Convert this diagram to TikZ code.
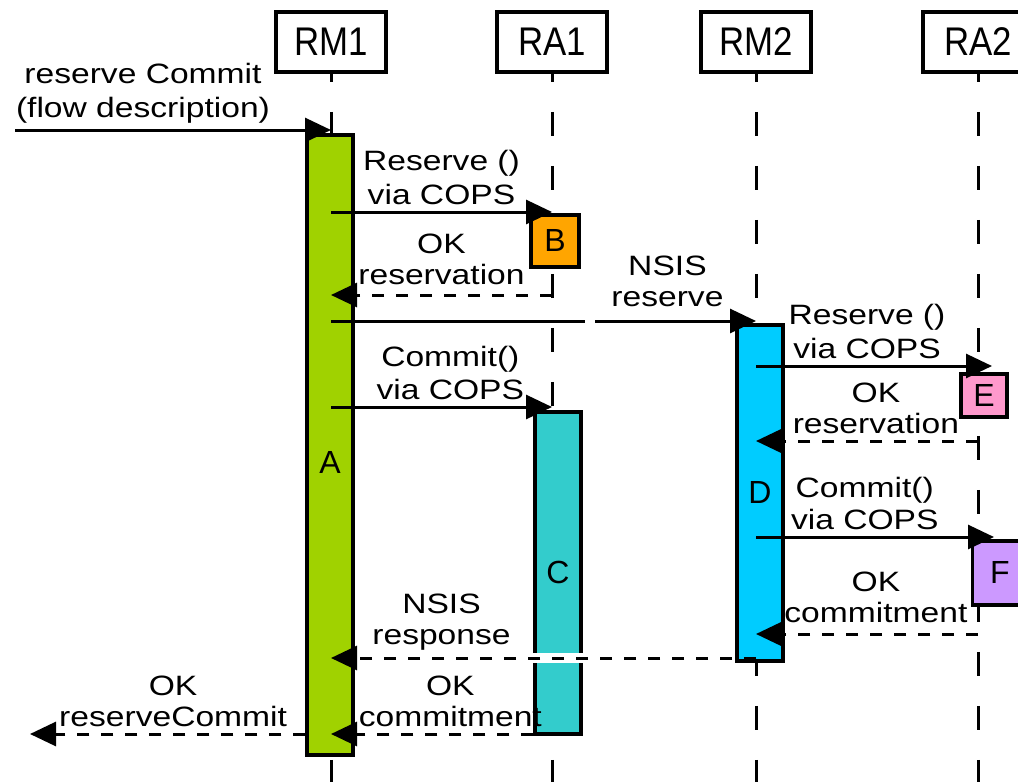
\documentclass[tikz,border=0pt]{standalone}
\usepackage{fontspec}
\setmainfont{Liberation Sans}
\newfontfamily\msgfont[FakeStretch=1.2]{Liberation Sans}
\newfontfamily\headfont[FakeStretch=0.87]{Liberation Sans}
\usepackage{tikz}
\usetikzlibrary{arrows.meta}

\definecolor{barA}{RGB}{160,210,0}
\definecolor{boxB}{RGB}{255,165,0}
\definecolor{barC}{RGB}{51,204,204}
\definecolor{barD}{RGB}{0,204,255}
\definecolor{boxE}{RGB}{255,153,204}
\definecolor{boxF}{RGB}{204,153,255}

\newcommand\msgtext[1]{\msgfont\fontsize{28}{#1}\selectfont}

\begin{document}
\begin{tikzpicture}[x=1pt, y=-1pt,
  head/.style={draw, line width=3.5pt, fill=white, minimum width=110pt, minimum height=60pt, inner sep=0pt, font=\headfont\fontsize{40}{40}\selectfont},
  lifeline/.style={line width=3pt, dash pattern=on 24pt off 30pt, dash phase=16pt},
  bar/.style={draw, line width=3.5pt, minimum width=46pt, inner sep=0pt, anchor=north, font=\fontsize{32}{32}\selectfont},
  msg/.style={line width=3pt, -{Triangle[length=26pt, width=24pt]}},
  reply/.style={msg, dash pattern=on 12pt off 12pt},
  lbl/.style={above=6pt, inner sep=0pt, align=center, font=\msgtext{34}},
  oklbl/.style={lbl, font=\msgtext{31}},
]
\fill[white] (0,0) rectangle (1018,782);
\useasboundingbox (0,0) rectangle (1018,782);

% Header boxes
\node[head] (rm1) at (331,42) {RM1};
\node[head] (ra1) at (552,42) {RA1};
\node[head] (rm2) at (756,42) {RM2};
\node[head] (ra2) at (978,42) {RA2};

% Message levels
\coordinate (bot) at (0,790);
\coordinate (src) at (15,130);
\coordinate (sink) at (30,734);
\coordinate (lvIn) at (0,130);
\coordinate (lvRes1) at (0,212);
\coordinate (lvOk1) at (0,295);
\coordinate (lvNsis) at (0,321);
\coordinate (lvRes2) at (0,366);
\coordinate (lvCom1) at (0,407);
\coordinate (lvOk2) at (0,441);
\coordinate (lvCom2) at (0,537);
\coordinate (lvOk3) at (0,634);
\coordinate (lvResp) at (0,658);
\coordinate (lvOk4) at (0,734);

% Lifelines
\foreach \h in {rm1, ra1, rm2, ra2}
  \draw[lifeline] (\h.south) -- (\h |- bot);

% Activations
\node[bar, fill=barA, minimum height=620pt, label={[font=\fontsize{32}{32}\selectfont, yshift=-18pt]center:A}] (A) at (330,133) {};
\node[bar, fill=boxB, minimum width=48pt, minimum height=52pt] (B) at (555,213) {B};
\node[bar, fill=barC, minimum height=322pt] (C) at (558,410) {C};
\node[bar, fill=barD, minimum height=336pt] (D) at (760,323) {D};
\node[bar, fill=boxE, minimum height=43pt] (E) at (984,372) {E};
\node[bar, fill=boxF, minimum width=55pt, minimum height=64pt] (F) at (1000,539) {F};

% Messages
\draw[msg] (src) -- node[lbl, pos=0.405, above=-1pt] {reserve Commit\\(flow description)} (rm1 |- lvIn);
\draw[msg] (rm1 |- lvRes1) -- node[lbl] {Reserve ()\\via COPS} (ra1 |- lvRes1);
\draw[reply] (ra1 |- lvOk1) -- node[oklbl, above=3pt] {OK\\reservation} (rm1 |- lvOk1);
\draw[msg] (rm1 |- lvNsis) -- ++(254,0) ++(10,0) -- node[lbl, pos=0.45, above=7pt, font=\msgtext{31}] {NSIS\\reserve} (rm2 |- lvNsis);
\draw[msg, shorten >=-14pt] (rm2 |- lvRes2) -- node[lbl] {Reserve ()\\via COPS} (ra2 |- lvRes2);
\draw[reply] (ra2 |- lvOk2) -- node[oklbl, pos=0.46] {OK\\reservation} (rm2 |- lvOk2);
\draw[msg] (rm1 |- lvCom1) -- node[lbl, pos=0.54, font=\msgtext{33}] {Commit()\\via COPS} (ra1 |- lvCom1);
\draw[msg, shorten >=-16pt] (rm2 |- lvCom2) -- node[lbl, pos=0.49, font=\msgtext{32}] {Commit()\\via COPS} (ra2 |- lvCom2);
\draw[reply] (ra2 |- lvOk3) -- node[oklbl, pos=0.46, above=4pt] {OK\\commitment} (rm2 |- lvOk3);
\draw[white, line width=10pt] (C.west |- lvResp) -- (C.east |- lvResp);
\draw[reply] (rm2 |- lvResp) -- node[lbl, pos=0.74, above=0pt, font=\msgtext{31}] {NSIS\\response} (rm1 |- lvResp);
\draw[reply] (C.west |- lvOk4) -- node[oklbl, pos=0.41] {OK\\commitment} (rm1 |- lvOk4);
\draw[reply] (A.west |- lvOk4) -- node[oklbl, pos=0.48] {OK\\reserveCommit} (sink);
\end{tikzpicture}
\end{document}
